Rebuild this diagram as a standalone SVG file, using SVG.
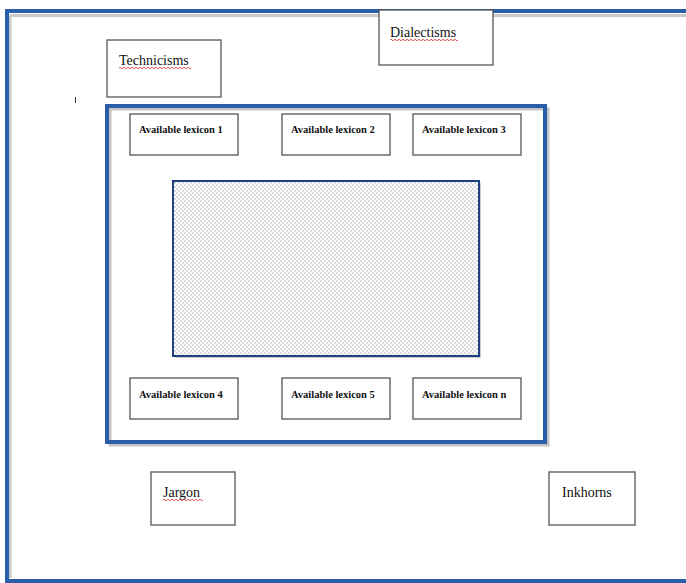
<svg xmlns="http://www.w3.org/2000/svg" width="686" height="583" viewBox="0 0 686 583">
<style>
.box{fill:#fff;stroke:#555;stroke-width:1.3}
.lbl{font-family:"Liberation Serif",serif;font-size:14px;fill:#111}
.lex{font-family:"Liberation Serif",serif;font-size:10.5px;font-weight:bold;fill:#111}
.frame{fill:none;stroke:#2a5ea8;stroke-width:4}
.shadow{fill:none;stroke:#bbb;stroke-width:3;opacity:0.8}
.squig{fill:none;stroke:#d03030;stroke-width:0.8}
</style>
<defs>
<pattern id="dots" width="4" height="4" patternUnits="userSpaceOnUse">
<rect width="4" height="4" fill="#fff"/>
<circle cx="1" cy="1" r="0.65" fill="#999"/>
<circle cx="3" cy="3" r="0.65" fill="#999"/>
</pattern>
</defs>
<rect width="686" height="583" fill="#fff"/>
<g id="outer-frame">
<path class="shadow" d="M10 15.5 H686 M10 15 V578"/>
<path class="frame" d="M7 584 V11 H690 M7 581 H690" stroke-width="4.5"/>
</g>
<g id="technicisms">
<rect class="box" x="107" y="40" width="114" height="57"/>
<text class="lbl" x="119" y="65">Technicisms</text>
<path class="squig" d="M119 68 q1 -1.5 2 0 t2 0 t2 0 t2 0 t2 0 t2 0 t2 0 t2 0 t2 0 t2 0 t2 0 t2 0 t2 0 t2 0 t2 0 t2 0 t2 0 t2 0 t2 0 t2 0 t2 0 t2 0 t2 0 t2 0 t2 0 t2 0 t2 0 t2 0 t2 0 t2 0 t2 0 t2 0 t2 0 t2 0 t2 0 t2 0"/>
</g>
<g id="dialectisms">
<rect class="box" x="379" y="10" width="114" height="55"/>
<text class="lbl" x="390" y="37">Dialectisms</text>
<path class="squig" d="M390 40 q1 -1.5 2 0 t2 0 t2 0 t2 0 t2 0 t2 0 t2 0 t2 0 t2 0 t2 0 t2 0 t2 0 t2 0 t2 0 t2 0 t2 0 t2 0 t2 0 t2 0 t2 0 t2 0 t2 0 t2 0 t2 0 t2 0 t2 0 t2 0 t2 0 t2 0 t2 0 t2 0 t2 0 t2 0 t2 0"/>
</g>
<path d="M75.5 97 V103" stroke="#333" stroke-width="1"/>
<g id="inner-frame">
<rect x="110" y="109" width="438" height="336" fill="none" stroke="#aaa" stroke-width="3" opacity="0.7"/>
<rect class="frame" x="107" y="106" width="438" height="336" fill="#fff" stroke-width="4.5"/>
</g>
<g id="core">
<rect x="175" y="183" width="306" height="175" fill="#aaa" opacity="0.6"/>
<rect x="173" y="181" width="306" height="175" fill="url(#dots)" stroke="#1f3f80" stroke-width="2"/>
</g>
<g id="lex1"><rect class="box" x="130" y="114" width="108" height="41"/><text class="lex" x="139" y="133">Available lexicon 1</text></g>
<g id="lex2"><rect class="box" x="282" y="114" width="108" height="41"/><text class="lex" x="291" y="133">Available lexicon 2</text></g>
<g id="lex3"><rect class="box" x="413" y="114" width="108" height="41"/><text class="lex" x="422" y="133">Available lexicon 3</text></g>
<g id="lex4"><rect class="box" x="130" y="378" width="108" height="41"/><text class="lex" x="139" y="398">Available lexicon 4</text></g>
<g id="lex5"><rect class="box" x="282" y="378" width="108" height="41"/><text class="lex" x="291" y="398">Available lexicon 5</text></g>
<g id="lexn"><rect class="box" x="413" y="378" width="108" height="41"/><text class="lex" x="422" y="398">Available lexicon n</text></g>
<g id="jargon">
<rect class="box" x="151" y="472" width="84" height="53"/>
<text class="lbl" x="163" y="497">Jargon</text>
<path class="squig" d="M163 500 q1 -1.5 2 0 t2 0 t2 0 t2 0 t2 0 t2 0 t2 0 t2 0 t2 0 t2 0 t2 0 t2 0 t2 0 t2 0 t2 0 t2 0 t2 0 t2 0 t2 0 t2 0"/>
</g>
<g id="inkhorns">
<rect class="box" x="549" y="472" width="86" height="53"/>
<text class="lbl" x="562" y="497">Inkhorns</text>
</g>
<g id="connectors"></g>
</svg>
